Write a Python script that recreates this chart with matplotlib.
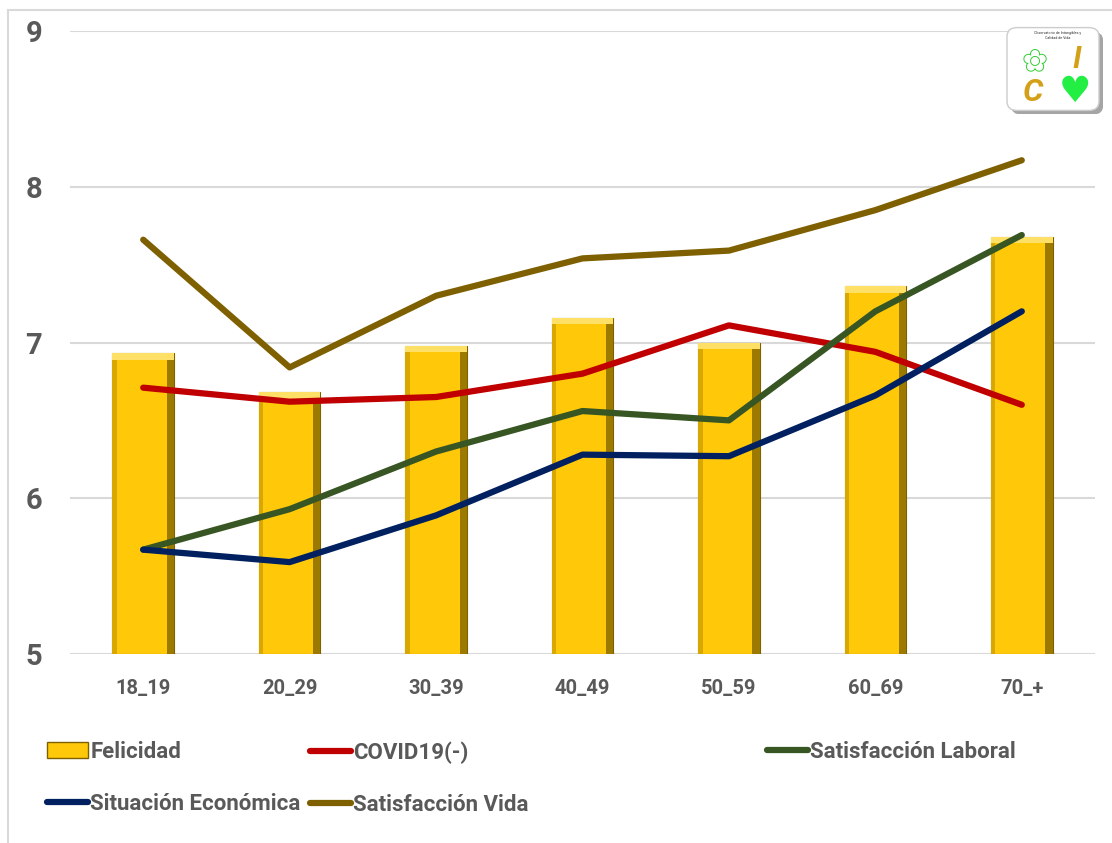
import matplotlib
matplotlib.use("Agg")
import matplotlib.pyplot as plt
import matplotlib.patheffects as pe
from matplotlib.patches import Rectangle, FancyBboxPatch, Patch
from matplotlib.lines import Line2D
import numpy as np

# ---- data ----
groups = ["18_19", "20_29", "30_39", "40_49", "50_59", "60_69", "70_+"]
felicidad = [6.93, 6.68, 6.98, 7.16, 7.00, 7.36, 7.68]
covid = [6.71, 6.62, 6.65, 6.80, 7.11, 6.94, 6.60]
sat_laboral = [5.67, 5.93, 6.30, 6.56, 6.50, 7.20, 7.69]
sit_economica = [5.67, 5.59, 5.89, 6.28, 6.27, 6.66, 7.20]
sat_vida = [7.66, 6.84, 7.30, 7.54, 7.59, 7.85, 8.17]
yticks = [5, 6, 7, 8, 9]

GOLD = "#FFC90A"
GOLD_EDGE = "#7F6000"
RED = "#C00000"
GREEN = "#375623"
NAVY = "#002060"
BROWN = "#7F6000"
TXT = "#595959"
FONT = "Roboto"

plt.rcParams["font.family"] = [FONT, "DejaVu Sans"]

fig = plt.figure(figsize=(11.12, 8.43), dpi=100)
ax = fig.add_axes([70 / 1112, 1 - 654 / 843, 1025 / 1112, 623 / 843])

x = np.arange(len(groups))
bw = 0.42

# bars with a simple bevel look
ax.bar(x, [v - 5 for v in felicidad], bottom=5, width=bw, color=GOLD,
       edgecolor=GOLD_EDGE, lw=0.8, zorder=2)
ax.bar(x + bw / 2 - 0.025, [v - 5 for v in felicidad], bottom=5, width=0.05,
       color="#9C7A00", lw=0, zorder=2.1)
ax.bar(x - bw / 2 + 0.015, [v - 5 for v in felicidad], bottom=5, width=0.03,
       color="#D9A800", lw=0, zorder=2.1)
ax.bar(x, [0.04] * len(x), bottom=[v - 0.04 for v in felicidad], width=bw,
       color="#FFE066", lw=0, zorder=2.2)

lw = 4.5
ax.plot(x, covid, color=RED, lw=lw, solid_capstyle="round", zorder=3)
ax.plot(x, sat_laboral, color=GREEN, lw=lw, solid_capstyle="round", zorder=3)
ax.plot(x, sit_economica, color=NAVY, lw=lw, solid_capstyle="round", zorder=3)
ax.plot(x, sat_vida, color=BROWN, lw=lw, solid_capstyle="round", zorder=3)

ax.set_xlim(-0.5, len(groups) - 0.5)
ax.set_ylim(5, 9)
ax.set_yticks(yticks)
ax.set_yticklabels([str(t) for t in yticks], fontsize=21, fontweight="bold",
                   color=TXT)
ax.set_xticks(x)
ax.set_xticklabels(groups, fontsize=14.5, fontweight="bold", color=TXT)
ax.tick_params(axis="y", length=0, pad=20)
ax.tick_params(axis="x", length=0, pad=18)
ax.grid(axis="y", color="#D9D9D9", lw=1.5, zorder=0)
ax.set_axisbelow(True)
for s in ax.spines.values():
    s.set_visible(False)

# legend, one column at a time to match the uneven spacing
h_fel = Patch(facecolor=GOLD, edgecolor=GOLD_EDGE, lw=1)
h_cov = Line2D([], [], color=RED, lw=lw, solid_capstyle="round")
h_lab = Line2D([], [], color=GREEN, lw=lw, solid_capstyle="round")
h_eco = Line2D([], [], color=NAVY, lw=lw, solid_capstyle="round")
h_vid = Line2D([], [], color=BROWN, lw=lw, solid_capstyle="round")
cols = [
    ([h_fel, h_eco], ["Felicidad", "Situación Económica"], 47),
    ([h_cov, h_vid], ["COVID19(-)", "Satisfacción Vida"], 310),
    ([h_lab], ["Satisfacción Laboral"], 767),
]
for hs, ls, px in cols:
    leg = fig.legend(hs, ls, loc="upper left",
                     bbox_to_anchor=(px / 1112, 1 - 741 / 843),
                     frameon=False, handlelength=1.85, handletextpad=0.1,
                     labelspacing=1.35, borderaxespad=0, borderpad=0,
                     prop={"family": FONT, "weight": "bold", "size": 16})
    for t in leg.get_texts():
        t.set_color(TXT)

# outer frame
fig.patches.append(Rectangle((8 / 1112, -0.01), 1.2, 1 - 10 / 843 + 0.01,
                             transform=fig.transFigure, fill=False,
                             edgecolor="#D9D9D9", lw=1.5))

# logo (approximation)
lax = fig.add_axes([1003 / 1112, 1 - 114 / 843, 100 / 1112, 90 / 843])
lax.set_xlim(0, 1)
lax.set_ylim(0, 1)
lax.axis("off")
box = FancyBboxPatch((0.06, 0.06), 0.88, 0.88,
                     boxstyle="round,pad=0.02,rounding_size=0.1",
                     facecolor="white", edgecolor="#CCCCCC", lw=1.0,
                     path_effects=[pe.SimplePatchShadow(offset=(3, -3),
                                                        alpha=0.5),
                                   pe.Normal()])
lax.add_patch(box)
lax.text(0.55, 0.87, "Observatorio de Intangibles y\nCalidad de Vida",
         ha="center", va="center", fontsize=2.6, color="#333333")
lax.text(0.32, 0.57, "✿", ha="center", va="center", fontsize=21,
         color="white", family="DejaVu Sans",
         path_effects=[pe.withStroke(linewidth=1.4, foreground="#33CC33")])
lax.text(0.74, 0.6, "I", ha="center", va="center", fontsize=22,
         fontweight="bold", fontstyle="italic", color="#D4A017")
lax.text(0.3, 0.24, "C", ha="center", va="center", fontsize=23,
         fontweight="bold", fontstyle="italic", color="#D4A017")
lax.text(0.72, 0.24, "♥", ha="center", va="center", fontsize=26,
         color="#22EE44", family="DejaVu Sans")

fig.savefig("out.png", dpi=100)
